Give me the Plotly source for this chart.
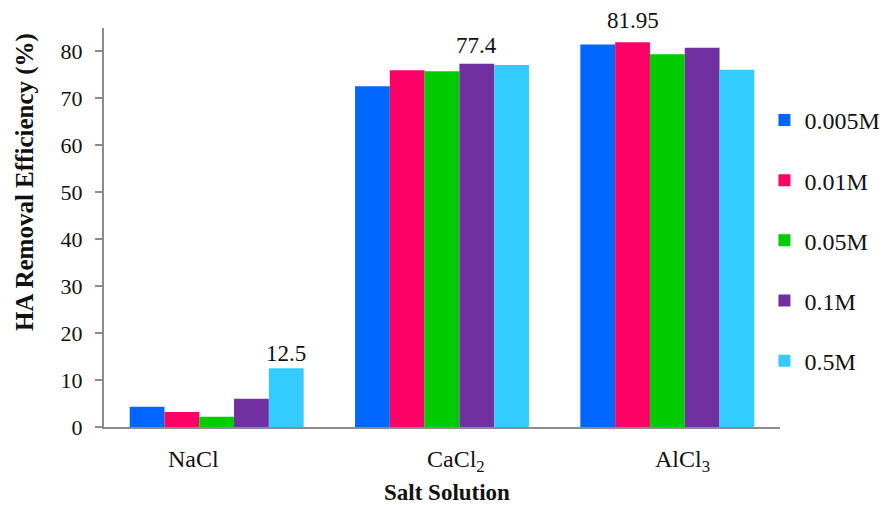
import plotly.graph_objects as go

categories = ["NaCl", "CaCl<sub>2</sub>", "AlCl<sub>3</sub>"]
series_names = ["0.005M", "0.01M", "0.05M", "0.1M", "0.5M"]
values = {
    "0.005M": [4.3, 72.6, 81.5],
    "0.01M": [3.2, 76.0, 81.95],
    "0.05M": [2.2, 75.8, 79.4],
    "0.1M": [6.0, 77.4, 80.8],
    "0.5M": [12.5, 77.1, 76.1],
}
# data labels shown in the reference: (series, category index, text)
value_labels = [("0.5M", 0, "12.5"), ("0.1M", 1, "77.4"), ("0.01M", 2, "81.95")]
label_yshift = [0, 4, 7]
colors = ["#0066FF", "#FF0066", "#00CC00", "#7030A0", "#33CCFF"]

FONT = "Liberation Serif, Times New Roman, Times, serif"
BAR_PX = 34.8  # bar width in pixels (style)

fig = go.Figure()
for name, col in zip(series_names, colors):
    fig.add_trace(go.Bar(
        x=categories, y=values[name], name=name, marker_color=col,
        marker_line_width=0, legendgroup=name,
    ))

ann = []
for (name, ci, txt), ys in zip(value_labels, label_yshift):
    i = series_names.index(name)
    ann.append(dict(x=categories[ci], xref="x", y=values[name][ci], yref="y",
                    xshift=(i - 2) * BAR_PX, yanchor="bottom", yshift=ys,
                    text=txt, showarrow=False,
                    font=dict(family=FONT, size=23, color="#111")))

shifts = [-23, 14, 15]
for c, s in zip(categories, shifts):
    ann.append(dict(x=c, xref="x", y=0, yref="paper", yanchor="top", yshift=-17,
                    xshift=s, text=c, showarrow=False,
                    font=dict(family=FONT, size=24, color="#111")))
ann.append(dict(x=0.507, xref="paper", y=0, yref="paper", yanchor="middle", yshift=-65,
                text="<b>Salt Solution</b>", showarrow=False,
                font=dict(family=FONT, size=23, color="#111")))
ann.append(dict(x=-0.117, xref="paper", y=0.614, yref="paper", xanchor="center",
                yanchor="middle", textangle=-90,
                text="<b>HA Removal Efficiency (%)</b>", showarrow=False,
                font=dict(family=FONT, size=25, color="#111")))

fig.update_layout(
    width=884, height=505,
    margin=dict(l=104, r=104, t=28, b=78, autoexpand=False),
    paper_bgcolor="white", plot_bgcolor="white",
    barmode="group", bargap=0.228, bargroupgap=0,
    font=dict(family=FONT, size=22, color="#111"),
    showlegend=True,
    legend=dict(x=0.977, xanchor="left", y=0.825, yanchor="top",
                font=dict(family=FONT, size=24, color="#111"),
                tracegroupgap=26, traceorder="grouped",
                bgcolor="rgba(0,0,0,0)"),
    annotations=ann,
)
fig.update_xaxes(showticklabels=False, showline=True, linecolor="#8c8c8c", linewidth=2,
                 ticks="", showgrid=False, zeroline=False)
fig.update_yaxes(range=[0, 85], dtick=10, tick0=0, showline=True, linecolor="#8c8c8c",
                 linewidth=2, ticks="outside", ticklen=7, tickcolor="#8c8c8c",
                 tickwidth=2, showgrid=False, zeroline=False,
                 tickfont=dict(family=FONT, size=22, color="#111"),
                 ticklabelstandoff=8)

fig.write_html("out.html", config={"displayModeBar": False},
               post_script="document.body.style.margin='0';document.body.style.overflow='hidden';")
